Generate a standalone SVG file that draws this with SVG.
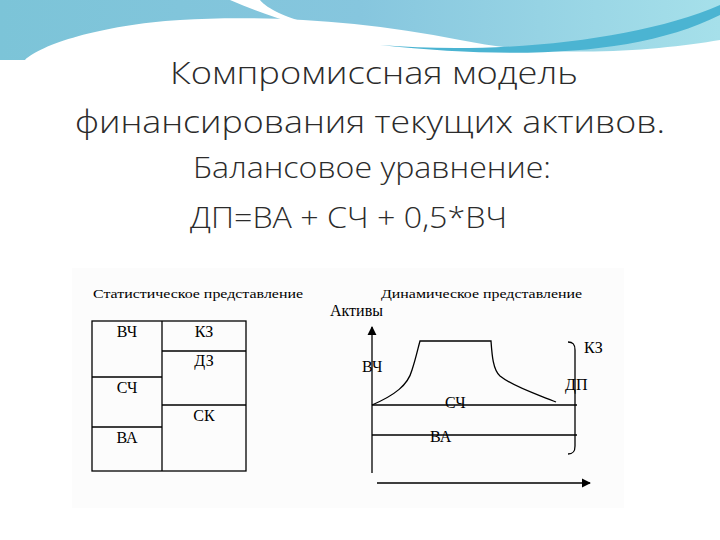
<svg xmlns="http://www.w3.org/2000/svg" width="720" height="540" viewBox="0 0 720 540">
<defs>
<linearGradient id="bg" x1="0" y1="0" x2="1" y2="0"><stop offset="0" stop-color="#7cc4d8"/><stop offset="0.5" stop-color="#86c6de"/><stop offset="1" stop-color="#a6e0ea"/></linearGradient>
<marker id="ah" viewBox="0 0 10 10" refX="9" refY="5" markerWidth="7" markerHeight="7" orient="auto"><path d="M0,0L10,5L0,10z" fill="#000"/></marker>
<style>
.t{font-family:"Open Sans","DejaVu Sans",sans-serif;fill:#2b2b2b;font-weight:300}
.s{font-family:"Liberation Serif",serif;fill:#000}
.l{stroke:#000;stroke-width:1.3;fill:none}
</style>
</defs>
<rect width="720" height="540" fill="#fff"/>
<path d="M0,0H720V40C660,50 560,60 460,40C360,20 260,15 180,20C100,25 40,45 25,60H0Z" fill="url(#bg)"/>
<path d="M230,0C300,30 360,40 390,43C300,25 270,12 260,0Z" fill="#fff"/>
<path d="M380,45C500,55 640,40 720,5V15C640,55 520,60 380,45Z" fill="#4bb4d2"/>
<rect x="72" y="268" width="552" height="240" fill="#fcfcfc"/>
<g id="title">
<text class="t" x="170" y="84" font-size="32" textLength="408" lengthAdjust="spacingAndGlyphs">Компромиссная модель</text>
<text class="t" x="75" y="133" font-size="32" textLength="590" lengthAdjust="spacingAndGlyphs">финансирования текущих активов.</text>
<text class="t" x="193" y="178" font-size="29" textLength="358" lengthAdjust="spacingAndGlyphs">Балансовое уравнение:</text>
<text class="t" x="190" y="228" font-size="29" textLength="317" lengthAdjust="spacingAndGlyphs">ДП=ВА + СЧ + 0,5*ВЧ</text>
</g>
<g id="static">
<text class="s" x="93" y="298" font-size="13" textLength="210" lengthAdjust="spacingAndGlyphs">Статистическое представление</text>
<rect class="l" x="92" y="321" width="154" height="150"/>
<line class="l" x1="162" y1="321" x2="162" y2="471"/>
<line class="l" x1="92" y1="377" x2="162" y2="377"/>
<line class="l" x1="92" y1="427" x2="162" y2="427"/>
<line class="l" x1="162" y1="351" x2="246" y2="351"/>
<line class="l" x1="162" y1="405" x2="246" y2="405"/>
<text class="s" x="127" y="337" font-size="16" text-anchor="middle">ВЧ</text>
<text class="s" x="127" y="393" font-size="16" text-anchor="middle">СЧ</text>
<text class="s" x="127" y="443" font-size="16" text-anchor="middle">ВА</text>
<text class="s" x="204" y="337" font-size="16" text-anchor="middle">КЗ</text>
<text class="s" x="204" y="366" font-size="16" text-anchor="middle">ДЗ</text>
<text class="s" x="204" y="421" font-size="16" text-anchor="middle">СК</text>
</g>
<g id="dynamic">
<text class="s" x="381" y="298" font-size="13" textLength="201" lengthAdjust="spacingAndGlyphs">Динамическое представление</text>
<text class="s" x="330" y="316" font-size="16">Активы</text>
<text class="s" x="362" y="372" font-size="16">ВЧ</text>
<text class="s" x="445" y="408" font-size="16">СЧ</text>
<text class="s" x="430" y="442" font-size="16">ВА</text>
<text class="s" x="584" y="353" font-size="16">КЗ</text>
<text class="s" x="565" y="390" font-size="16">ДП</text>
</g>
<g id="connectors">
<line class="l" x1="372" y1="473" x2="372" y2="327" marker-end="url(#ah)"/>
<line class="l" x1="377" y1="483" x2="590" y2="483" marker-end="url(#ah)"/>
<path class="l" d="M372,405C395,395 408,385 412,370C416,358 418,348 420,341H491C492,355 493,370 500,376C515,388 540,395 556,402"/>
<line class="l" x1="372" y1="405" x2="577" y2="405"/>
<line class="l" x1="372" y1="435" x2="577" y2="435"/>
<path class="l" d="M568,342C573,342 575,344 575,350V446C575,452 573,454 568,454"/>
</g>
</svg>
